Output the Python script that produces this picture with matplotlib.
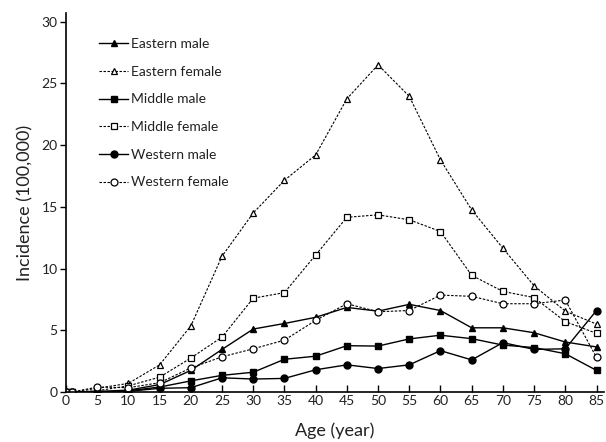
import matplotlib
matplotlib.use('Agg')
import matplotlib.pyplot as plt

plt.rcParams['font.family'] = ['Lato', 'DejaVu Sans']

ages = [0, 1, 5, 10, 15, 20, 25, 30, 35, 40, 45, 50, 55, 60, 65, 70, 75, 80, 85]

eastern_male = [0, 0, 0.05, 0.15, 0.6, 1.75, 3.45, 5.1, 5.55, 6.05, 6.85, 6.55, 7.1, 6.6, 5.2, 5.2, 4.8, 4.05, 3.65]
eastern_female = [0, 0, 0.3, 0.7, 2.2, 5.35, 11.0, 14.5, 17.15, 19.2, 23.75, 26.5, 23.95, 18.8, 14.75, 11.65, 8.6, 6.55, 5.5]
middle_male = [0, 0, -0.05, 0.1, 0.4, 0.9, 1.35, 1.6, 2.65, 2.9, 3.75, 3.72, 4.3, 4.6, 4.32, 3.8, 3.6, 3.1, 1.75]
middle_female = [0, 0, 0.1, 0.5, 1.2, 2.75, 4.45, 7.6, 8.05, 11.1, 14.15, 14.35, 13.95, 13.0, 9.45, 8.15, 7.65, 5.7, 4.75]
western_male = [0, 0, 0, 0.05, 0.3, 0.35, 1.15, 1.05, 1.1, 1.8, 2.2, 1.9, 2.2, 3.35, 2.6, 4.0, 3.45, 3.5, 6.6]
western_female = [0, 0, 0.4, 0.35, 0.75, 1.95, 2.85, 3.5, 4.2, 5.8, 7.15, 6.5, 6.6, 7.85, 7.75, 7.15, 7.15, 7.45, 2.8]

xticks = list(range(0, 90, 5))
yticks = [0, 5, 10, 15, 20, 25, 30]

fig = plt.figure(figsize=(6.06, 4.42), dpi=100)
ax = fig.add_axes([66 / 606, 1 - 392 / 442, 538 / 606, (392 - 13) / 442])

dash = (0, (2.2, 1.4))
ms = 5
ax.plot(ages, eastern_male, color='black', lw=1.0, marker='^', ms=ms, mfc='black', mec='black', label='Eastern male')
ax.plot(ages, eastern_female, color='black', lw=0.8, ls=dash, marker='^', ms=ms, mfc='white', mec='black', mew=0.9, label='Eastern female')
ax.plot(ages, middle_male, color='black', lw=1.0, marker='s', ms=ms, mfc='black', mec='black', label='Middle male')
ax.plot(ages, middle_female, color='black', lw=0.8, ls=dash, marker='s', ms=ms, mfc='white', mec='black', mew=0.9, label='Middle female')
ax.plot(ages, western_male, color='black', lw=1.0, marker='o', ms=ms, mfc='black', mec='black', label='Western male')
ax.plot(ages, western_female, color='black', lw=0.8, ls=dash, marker='o', ms=ms, mfc='white', mec='black', mew=0.9, label='Western female')

ax.set_xlim(0, 86.2)
ax.set_ylim(0, 30.7)
ax.set_xticks(xticks)
ax.set_yticks(yticks)
ax.spines['top'].set_visible(False)
ax.spines['right'].set_visible(False)
ax.spines['left'].set_linewidth(1.2)
ax.spines['bottom'].set_linewidth(1.2)
ax.tick_params(axis='x', direction='in', length=5, width=1.0, labelsize=10, pad=2)
ax.tick_params(axis='y', direction='out', length=4, width=1.0, labelsize=10, pad=2)
for lab in ax.get_xticklabels() + ax.get_yticklabels():
    lab.set_color('#222222')

ax.set_xlabel('Age (year)', fontsize=13, labelpad=11, color='#222222')
ax.set_ylabel('Incidence (100,000)', fontsize=13, labelpad=6, color='#222222')

leg = ax.legend(loc='upper left', bbox_to_anchor=(99 / 606, 1 - 38 / 442), bbox_transform=fig.transFigure,
                frameon=False, fontsize=10, handlelength=2.1, handletextpad=0.2,
                labelspacing=1.13, borderpad=0, borderaxespad=0, numpoints=1)
for t in leg.get_texts():
    t.set_color('#222222')

fig.savefig('out.png', dpi=100)
